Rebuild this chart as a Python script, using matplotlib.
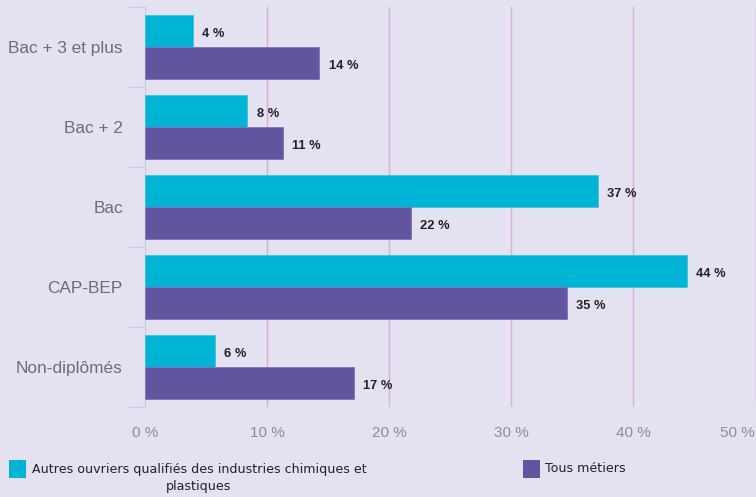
import numpy as np
import matplotlib.pyplot as plt
from matplotlib.patches import Rectangle

# --- données ---
categories = ["Bac + 3 et plus", "Bac + 2", "Bac", "CAP-BEP", "Non-diplômés"]
chimie = [3.9, 8.4, 37.1, 44.4, 5.7]
tous = [14.3, 11.3, 21.8, 34.6, 17.1]
chimie_labels = ["4 %", "8 %", "37 %", "44 %", "6 %"]
tous_labels = ["14 %", "11 %", "22 %", "35 %", "17 %"]
xticks = [0, 10, 20, 30, 40, 50]
series_names = ["Autres ouvriers qualifiés des industries chimiques et\nplastiques", "Tous métiers"]

bg = "#e4e1f0"
cyan = "#00b4d6"
violet = "#61559f"
arial = ["Liberation Sans", "DejaVu Sans"]

fig = plt.figure(figsize=(7.56, 4.97), dpi=100, facecolor=bg)
ax = fig.add_axes([145 / 756, 1 - 407 / 497, 610 / 756, 400 / 497])
ax.set_facecolor(bg)

y = np.arange(len(categories))
h = 0.4
ax.barh(y - h / 2, chimie, height=h, color=cyan, edgecolor="#3cc6e2", linewidth=0.6, zorder=3)
ax.barh(y + h / 2, tous, height=h, color=violet, edgecolor="#7f74b8", linewidth=0.6, zorder=3)

for i in range(len(categories)):
    ax.text(chimie[i] + 0.75, y[i] - h / 2 + 0.04, chimie_labels[i], va="center", ha="left",
            fontsize=9.3, fontweight="bold", color="#222222", family=arial)
    ax.text(tous[i] + 0.75, y[i] + h / 2 + 0.04, tous_labels[i], va="center", ha="left",
            fontsize=9.3, fontweight="bold", color="#222222", family=arial)

ax.set_xlim(0, 50)
ax.set_ylim(len(categories) - 0.5, -0.5)
ax.set_xticks(xticks)
xl = ax.set_xticklabels([f"{t} %" for t in xticks], color="#8e8e8e", fontsize=11, family=arial)
xl[-1].set_horizontalalignment("right")
ax.tick_params(axis="x", length=0, pad=14)

ax.set_yticks(y)
ax.set_yticklabels(categories, color="#6e6e6e", fontsize=12.4, family=arial)
ax.tick_params(axis="y", length=0, pad=16)
ax.set_yticks(np.arange(len(categories) + 1) - 0.5, minor=True)
ax.tick_params(axis="y", which="minor", length=12, color="#b8d2ee", width=1)

for t in xticks[1:]:
    ax.axvline(t, color="#dcacd8", linewidth=1, zorder=1)

for s in ["top", "right", "bottom"]:
    ax.spines[s].set_visible(False)
ax.spines["left"].set_color("#b8d2ee")

# légende
lw = 17 / 756
lh = 18 / 497
fig.patches.append(Rectangle((9 / 756, 1 - 478 / 497), lw, lh, transform=fig.transFigure,
                             facecolor=cyan, edgecolor="none"))
fig.patches.append(Rectangle((523 / 756, 1 - 478 / 497), lw, lh, transform=fig.transFigure,
                             facecolor=violet, edgecolor="none"))
fig.text(199 / 756, 1 - 478 / 497, series_names[0], ha="center", va="center", fontsize=9.1,
         color="#222222", multialignment="center", linespacing=1.45)
fig.text(545 / 756, 1 - 468 / 497, series_names[1], ha="left", va="center", fontsize=9.1,
         color="#222222")

fig.savefig("out.png", dpi=100, facecolor=bg)
